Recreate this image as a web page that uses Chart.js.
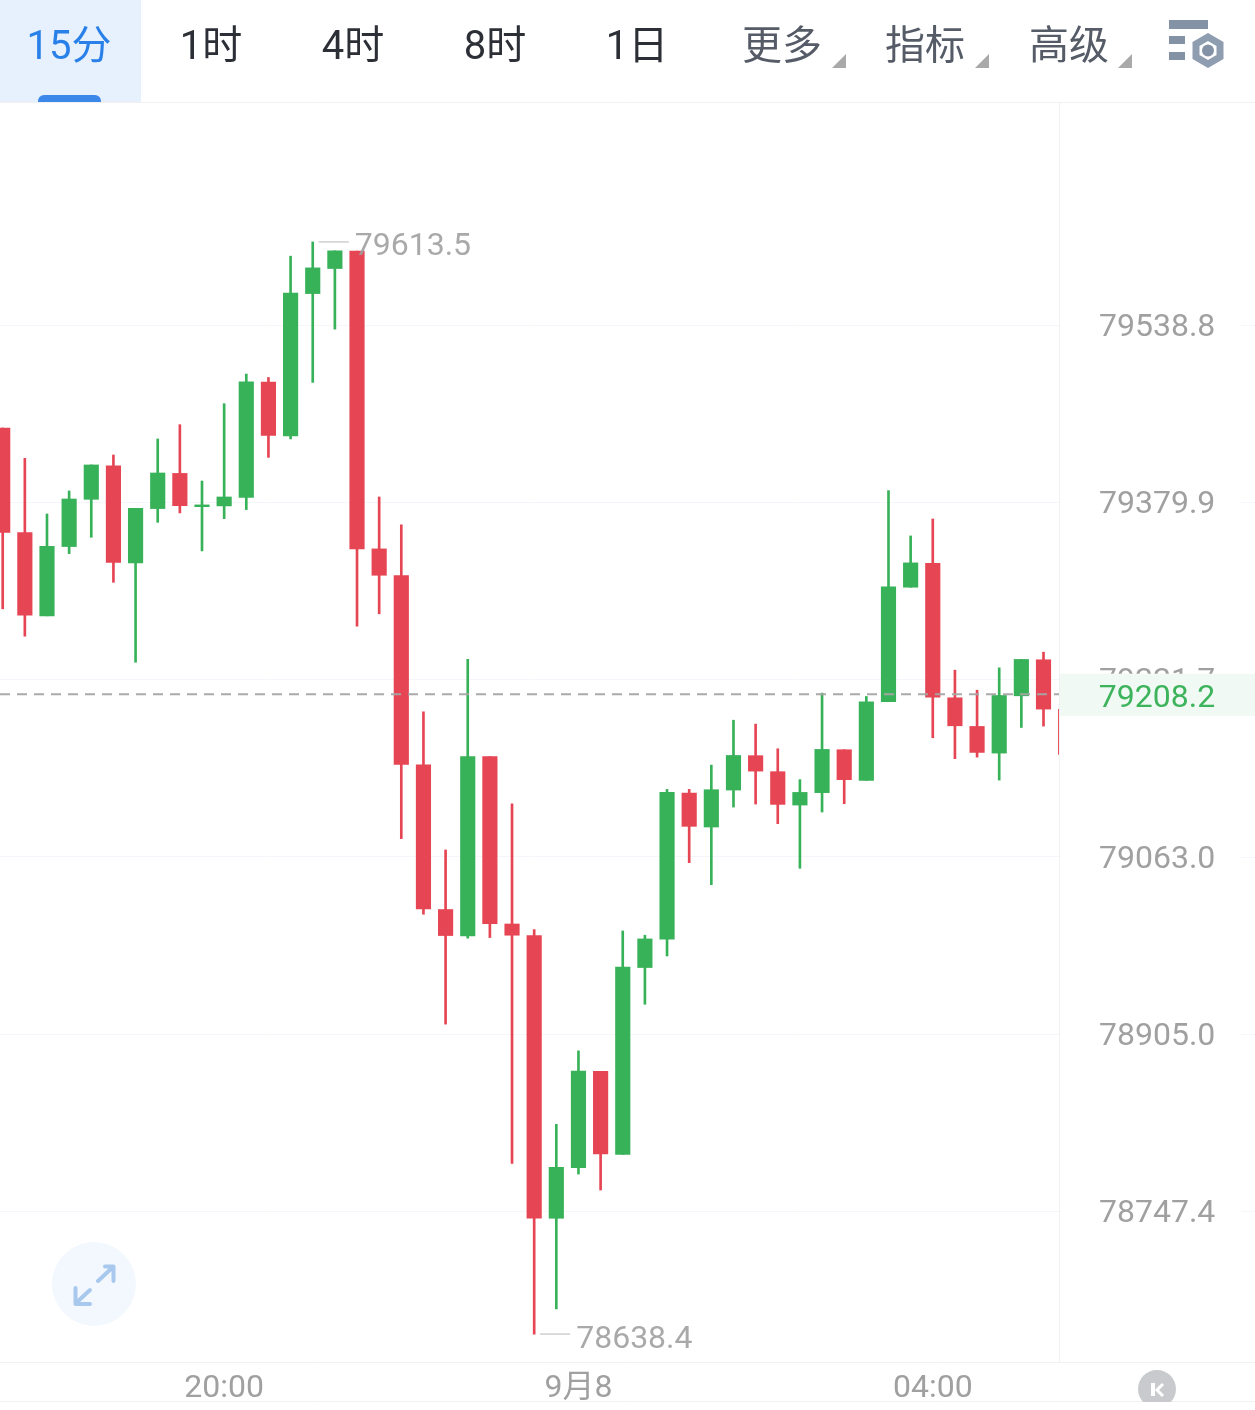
<!DOCTYPE html>
<html lang="zh">
<head>
<meta charset="utf-8">
<title>K线图</title>
<script src="https://cdn.jsdelivr.net/npm/chart.js@4"></script>
<style>
html,body{margin:0;padding:0;background:#fff;width:1255px;height:1410px;overflow:hidden}
#wrap{position:relative;width:1255px;height:1410px;font-family:Roboto,"Noto Sans CJK SC",sans-serif}
canvas#c{position:absolute;left:0;top:0}
.tab{position:absolute;top:0;height:90px;line-height:92px;text-align:center;font-size:40px;white-space:nowrap}
.main{color:#2d2f37}.sub{color:#555b67}.on{color:#2a80e9}
#activeBg{position:absolute;left:0;top:0;width:141px;height:102px;background:#e6f1fd}
#activeBar{position:absolute;left:38px;top:95px;width:63px;height:7px;background:#3c88ea;border-radius:6px 6px 0 0}
svg{position:absolute;left:0;top:0;pointer-events:none}
</style>
</head>
<body>
<div id="wrap">
<canvas id="c" width="1255" height="1410"></canvas>
<div id="activeBg"></div><div id="activeBar"></div>
<div class="tab on" style="left:9px;width:120px">15分</div>
<div class="tab main" style="left:151px;width:120px">1时</div>
<div class="tab main" style="left:293px;width:120px">4时</div>
<div class="tab main" style="left:435px;width:120px">8时</div>
<div class="tab main" style="left:577px;width:120px">1日</div>
<div class="tab sub" style="left:722px;width:120px">更多</div>
<div class="tab sub" style="left:865px;width:120px">指标</div>
<div class="tab sub" style="left:1009px;width:120px">高级</div>
<svg width="1255" height="1410" viewBox="0 0 1255 1410">
  <g fill="#a9a9a9">
    <path d="M846 54V68H832Z"/><path d="M989 54V68H975Z"/><path d="M1132 54V68H1118Z"/>
  </g>
  <g fill="#8492a6">
    <rect x="1169" y="20" width="39" height="9"/>
    <rect x="1169" y="36" width="16" height="8"/>
    <rect x="1169" y="52" width="16" height="8"/>
  </g>
  <path d="M1208 37L1220 44V57L1208 64L1196 57V44Z" fill="none" stroke="#8f9db1" stroke-width="7"/>
  <circle cx="1208" cy="50.500" r="6" fill="#8492a6"/>
  <circle cx="94" cy="1284" r="42" fill="#f3f8fe"/>
  <g fill="none" stroke="#a9c8ee" stroke-width="4" stroke-linecap="round" stroke-linejoin="round">
    <path d="M98 1281L113 1267M105 1266.500H113.500V1281"/>
    <path d="M90 1290L76 1303M75.500 1288V1304H90"/>
  </g>
  <defs><clipPath id="kclip"><rect x="1130" y="1360" width="60" height="42"/></clipPath></defs>
  <circle cx="1157" cy="1389" r="19" fill="#c9cacd" clip-path="url(#kclip)"/>
  <rect x="1151" y="1383" width="4" height="13" fill="#fff"/>
  <path d="M1163 1384L1157 1390L1163 1396" fill="none" stroke="#fff" stroke-width="3"/>
</svg>
</div>
<script>
const categories = ['17:30','17:45','18:00','18:15','18:30','18:45','19:00','19:15','19:30','19:45','20:00','20:15','20:30','20:45','21:00','21:15','21:30','21:45','22:00','22:15','22:30','22:45','23:00','23:15','23:30','23:45','00:00','00:15','00:30','00:45','01:00','01:15','01:30','01:45','02:00','02:15','02:30','02:45','03:00','03:15','03:30','03:45','04:00','04:15','04:30','04:45','05:00','05:15','05:30'];
const openPrices = [79446.5,79352.8,79278.3,79340.3,79382.6,79412.7,79325.7,79374.3,79405.8,79376.0,79376.7,79384.4,79487.7,79439.3,79567.1,79589.6,79605.2,79338.2,79314.3,79145.2,79016.0,78992.5,79152.4,79003.1,78992.8,78741.2,78786.1,78871.8,78798.0,78964.3,78989.5,79119.9,79089.6,79122.6,79153.3,79139.0,79109.2,79120.3,79158.6,79131.2,79201.5,79303.9,79325.3,79205.0,79179.4,79155.6,79206.8,79239.0,79194.6];
const closePrices = [79353.0,79278.8,79340.5,79382.9,79413.4,79326.2,79374.5,79406.2,79376.9,79377.6,79384.7,79488.0,79439.9,79567.5,79590.2,79605.5,79338.2,79314.6,79145.5,79016.5,78992.8,79152.6,79003.5,78993.1,78741.4,78786.5,78872.1,78798.5,78964.6,78989.8,79120.5,79090.2,79122.9,79153.5,79139.5,79109.8,79120.5,79158.9,79131.9,79201.5,79304.2,79325.7,79205.6,79180.0,79156.2,79207.1,79239.3,79194.9,79154.4];
const highPrices = [79446.5,79419.3,79369.5,79390.1,79413.4,79422.3,79374.5,79436.7,79449.5,79399.0,79468.3,79494.9,79491.8,79600.7,79613.5,79605.5,79605.2,79384.7,79359.7,79192.5,79069.1,79239.3,79152.4,79110.4,78998.2,78824.7,78890.1,78871.8,78996.9,78993.1,79123.2,79123.2,79144.9,79185.0,79181.5,79159.5,79131.9,79209.2,79158.6,79206.2,79390.4,79349.8,79365.0,79229.7,79211.8,79231.8,79239.3,79245.8,79194.6];
const lowPrices = [79284.6,79260.1,79278.3,79334.0,79348.6,79308.3,79236.8,79362.0,79370.4,79336.4,79365.3,79373.4,79420.2,79436.7,79487.4,79535.2,79269.0,79280.1,79079.2,79011.8,78913.9,78990.4,78991.0,78790.0,78638.4,78660.7,78780.5,78766.3,78798.0,78931.6,78974.6,79057.8,79038.2,79107.4,79110.1,79092.6,79052.8,79103.0,79110.4,79131.2,79201.5,79303.9,79169.3,79150.6,79152.0,79131.5,79178.5,79179.7,79154.4];
const yTickValues = [79538.8,79379.9,79221.7,79063.0,78905.0,78747.4];
const xTickTimes = ['20:00','00:00','04:00'];
const xTickLabels = ['20:00','9月8','04:00'];
const lastPrice = 79208.2;
const peakMark = {time:'21:00', price:79613.5};
const troughMark = {time:'23:30', price:78638.4};

const GREEN='#38b259', RED='#e64553', GRID='#f3f6fa', FRAME='#f1f1f1';
const FONT='Roboto,"Noto Sans CJK SC",sans-serif';
const xMin=-0.122, xMax=47.7, yMax=79738.4, yMin=78613.6;
const colourOf = i => closePrices[i] >= openPrices[i] ? GREEN : RED;
const idx = categories.map((_,i)=>i);

const overlay = {
  id:'overlay',
  afterDraw(chart){
    const {ctx,scales:{x,y}} = chart;
    ctx.save();
    ctx.strokeStyle=FRAME; ctx.lineWidth=1;
    [[0,102.5,1255,102.5],[0,1362.5,1255,1362.5],[0,1401.5,1255,1401.5],[1059.5,103,1059.5,1362]].forEach(l=>{
      ctx.beginPath();ctx.moveTo(l[0],l[1]);ctx.lineTo(l[2],l[3]);ctx.stroke();
    });
    ctx.strokeStyle=GRID;
    yTickValues.forEach(v=>{
      const p=Math.round(y.getPixelForValue(v))+0.5;
      ctx.beginPath();ctx.moveTo(1241,p);ctx.lineTo(1255,p);ctx.stroke();
    });
    // peak and trough callouts
    ctx.font='32px '+FONT; ctx.textBaseline='middle'; ctx.textAlign='left';
    [peakMark,troughMark].forEach(m=>{
      const px=x.getPixelForValue(categories.indexOf(m.time)), py=y.getPixelForValue(m.price);
      ctx.strokeStyle='#cfcfcf'; ctx.lineWidth=1.5;
      ctx.beginPath();ctx.moveTo(px+6,py);ctx.lineTo(px+36,py);ctx.stroke();
      ctx.fillStyle='rgba(160,160,160,.9)';
      ctx.fillText(m.price.toFixed(1),px+42,py+5.5);
    });
    // last price badge
    const ly=y.getPixelForValue(lastPrice);
    ctx.fillStyle='#f0f9f3';
    ctx.fillRect(1060,ly-20.5,195,42);
    ctx.fillStyle='#3db35c'; ctx.textAlign='center';
    ctx.fillText(lastPrice.toFixed(1),1157,ly+4.5);
    ctx.restore();
  }
};

new Chart(document.getElementById('c'),{
  type:'bar',
  data:{datasets:[
    {type:'line',label:'最新价',order:1,data:[{x:xMin,y:lastPrice},{x:xMax,y:lastPrice}],
     borderColor:'rgba(165,165,165,.95)',borderWidth:2,borderDash:[10,7],pointRadius:0,fill:false},
    {label:'实体',order:2,grouped:false,barThickness:14.5,
     data:idx.map(i=>({x:i,y:[openPrices[i],closePrices[i]]})),
     backgroundColor:idx.map(colourOf),borderWidth:0,borderSkipped:false},
    {label:'影线',order:3,grouped:false,barThickness:2,
     data:idx.map(i=>({x:i,y:[lowPrices[i],highPrices[i]]})),
     backgroundColor:idx.map(colourOf),borderWidth:0,borderSkipped:false}
  ]},
  options:{
    responsive:false,animation:false,devicePixelRatio:1,
    layout:{padding:{top:103,left:0,right:0,bottom:0}},
    plugins:{legend:{display:false},title:{display:false},tooltip:{enabled:false}},
    scales:{
      x:{type:'linear',min:xMin,max:xMax,offset:false,
        grid:{display:false,offset:false},border:{display:false},
        afterBuildTicks(s){s.ticks=xTickTimes.map(t=>({value:categories.indexOf(t)}));},
        afterFit(s){s.height=48;s.paddingLeft=0;s.paddingRight=0;s.paddingTop=0;s.paddingBottom=0;},
        ticks:{autoSkip:false,maxRotation:0,minRotation:0,padding:0,color:'#a0a0a0',
          font:{family:FONT,size:32},
          callback(v){return xTickLabels[xTickTimes.indexOf(categories[v])];}}
      },
      y:{type:'logarithmic',position:'right',min:yMin,max:yMax,
        grid:{color:GRID,lineWidth:1,drawTicks:false},border:{display:false},
        afterBuildTicks(s){s.ticks=yTickValues.map(v=>({value:v}));},
        afterFit(s){s.width=196;s.paddingLeft=0;s.paddingRight=0;s.paddingTop=0;s.paddingBottom=0;},
        ticks:{autoSkip:false,crossAlign:'center',padding:40,labelOffset:3,color:'#a0a0a0',
          font:{family:FONT,size:32},
          callback(v){return Number(v).toFixed(1);}}
      }
    }
  },
  plugins:[overlay]
});
</script>
</body>
</html>
